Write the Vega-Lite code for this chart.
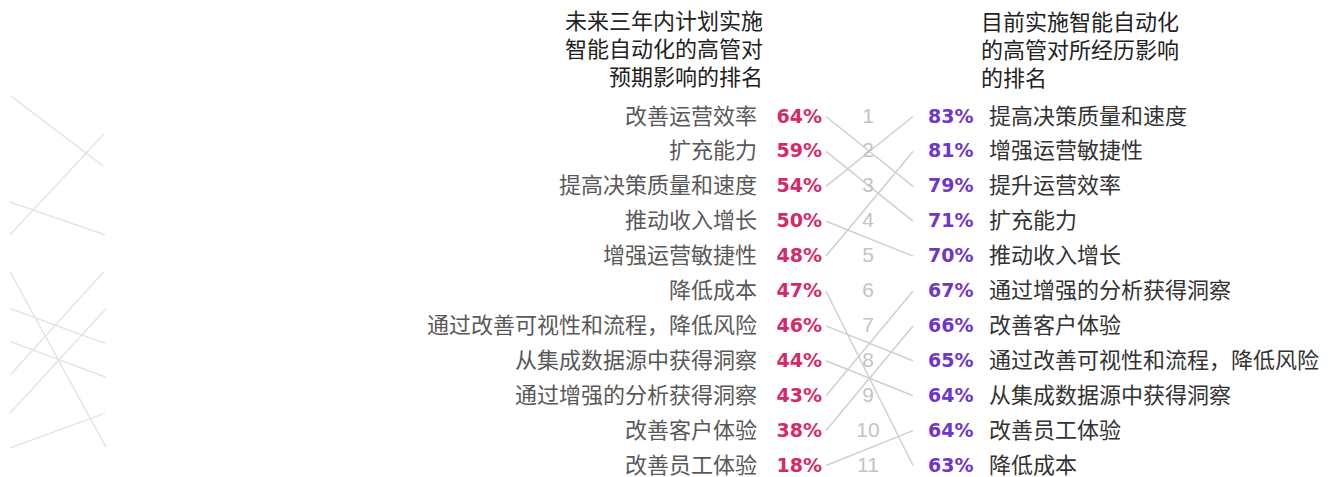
{
  "$schema": "https://vega.github.io/schema/vega-lite/v6.json",
  "width": 1339,
  "height": 477,
  "autosize": {"type": "fit", "contains": "padding"},
  "padding": 0,
  "background": "white",
  "config": {"view": {"stroke": null}},
  "data": {
    "values": [
      {"leftRank": 1, "leftLabel": "改善运营效率", "leftPct": "64%", "rightRank": 3, "rightLabel": "提升运营效率", "rightPct": "79%"},
      {"leftRank": 2, "leftLabel": "扩充能力", "leftPct": "59%", "rightRank": 4, "rightLabel": "扩充能力", "rightPct": "71%"},
      {"leftRank": 3, "leftLabel": "提高决策质量和速度", "leftPct": "54%", "rightRank": 1, "rightLabel": "提高决策质量和速度", "rightPct": "83%"},
      {"leftRank": 4, "leftLabel": "推动收入增长", "leftPct": "50%", "rightRank": 5, "rightLabel": "推动收入增长", "rightPct": "70%"},
      {"leftRank": 5, "leftLabel": "增强运营敏捷性", "leftPct": "48%", "rightRank": 2, "rightLabel": "增强运营敏捷性", "rightPct": "81%"},
      {"leftRank": 6, "leftLabel": "降低成本", "leftPct": "47%", "rightRank": 11, "rightLabel": "降低成本", "rightPct": "63%"},
      {"leftRank": 7, "leftLabel": "通过改善可视性和流程，降低风险", "leftPct": "46%", "rightRank": 8, "rightLabel": "通过改善可视性和流程，降低风险", "rightPct": "65%"},
      {"leftRank": 8, "leftLabel": "从集成数据源中获得洞察", "leftPct": "44%", "rightRank": 9, "rightLabel": "从集成数据源中获得洞察", "rightPct": "64%"},
      {"leftRank": 9, "leftLabel": "通过增强的分析获得洞察", "leftPct": "43%", "rightRank": 6, "rightLabel": "通过增强的分析获得洞察", "rightPct": "67%"},
      {"leftRank": 10, "leftLabel": "改善客户体验", "leftPct": "38%", "rightRank": 7, "rightLabel": "改善客户体验", "rightPct": "66%"},
      {"leftRank": 11, "leftLabel": "改善员工体验", "leftPct": "18%", "rightRank": 10, "rightLabel": "改善员工体验", "rightPct": "64%"}
    ]
  },
  "layer": [
    {
      "data": {
        "values": [
          {"xa": 11, "xb": 103, "ya": 0.414, "yb": 2.414},
          {"xa": 104, "xb": 10, "ya": 1.5, "yb": 4.386},
          {"xa": 9, "xb": 105, "ya": 3.443, "yb": 4.386},
          {"xa": 10, "xb": 106, "ya": 5.443, "yb": 10.471},
          {"xa": 104, "xb": 10, "ya": 5.443, "yb": 8.414},
          {"xa": 10, "xb": 105, "ya": 6.5, "yb": 7.5},
          {"xa": 106, "xb": 10, "ya": 6.5, "yb": 9.5},
          {"xa": 10, "xb": 106, "ya": 7.443, "yb": 8.471},
          {"xa": 10, "xb": 105, "ya": 10.5, "yb": 9.5}
        ]
      },
      "mark": {"type": "rule", "color": "#e5e5e5", "strokeWidth": 1.5},
      "encoding": {
        "x": {"field": "xa", "type": "quantitative", "axis": null, "scale": {"type": "linear", "domain": [0, 1339], "range": [0, 1339], "nice": false, "zero": false}},
        "x2": {"field": "xb"},
        "y": {"field": "ya", "type": "quantitative", "axis": null, "scale": {"type": "linear", "domain": [1, 11], "range": [116.5, 465.5], "nice": false, "zero": false}},
        "y2": {"field": "yb"}
      }
    },
    {
      "mark": {"type": "rule", "color": "#d0d0d0", "strokeWidth": 1.5},
      "encoding": {
        "x": {"datum": 826, "type": "quantitative", "axis": null, "scale": {"type": "linear", "domain": [0, 1339], "range": [0, 1339], "nice": false, "zero": false}},
        "x2": {"datum": 913},
        "y": {"field": "leftRank", "type": "quantitative", "axis": null, "scale": {"type": "linear", "domain": [1, 11], "range": [116.5, 465.5], "nice": false, "zero": false}},
        "y2": {"field": "rightRank"}
      }
    },
    {
      "mark": {"type": "text", "align": "right", "baseline": "middle", "font": "Noto Sans CJK SC", "fontSize": 22, "color": "#595959"},
      "encoding": {
        "x": {"datum": 757, "type": "quantitative", "axis": null, "scale": {"type": "linear", "domain": [0, 1339], "range": [0, 1339], "nice": false, "zero": false}},
        "y": {"field": "leftRank", "type": "quantitative", "axis": null, "scale": {"type": "linear", "domain": [1, 11], "range": [116.5, 465.5], "nice": false, "zero": false}},
        "text": {"field": "leftLabel"}
      }
    },
    {
      "mark": {"type": "text", "align": "right", "baseline": "middle", "font": "DejaVu Sans", "fontWeight": "bold", "fontSize": 19, "color": "#d42a6a"},
      "encoding": {
        "x": {"datum": 822, "type": "quantitative", "axis": null, "scale": {"type": "linear", "domain": [0, 1339], "range": [0, 1339], "nice": false, "zero": false}},
        "y": {"field": "leftRank", "type": "quantitative", "axis": null, "scale": {"type": "linear", "domain": [1, 11], "range": [116.5, 465.5], "nice": false, "zero": false}},
        "text": {"field": "leftPct"}
      }
    },
    {
      "mark": {"type": "text", "align": "center", "baseline": "middle", "font": "Liberation Sans", "fontSize": 21, "color": "#c4c4c4"},
      "encoding": {
        "x": {"datum": 868, "type": "quantitative", "axis": null, "scale": {"type": "linear", "domain": [0, 1339], "range": [0, 1339], "nice": false, "zero": false}},
        "y": {"field": "leftRank", "type": "quantitative", "axis": null, "scale": {"type": "linear", "domain": [1, 11], "range": [116.5, 465.5], "nice": false, "zero": false}},
        "text": {"field": "leftRank"}
      }
    },
    {
      "mark": {"type": "text", "align": "left", "baseline": "middle", "font": "DejaVu Sans", "fontWeight": "bold", "fontSize": 19, "color": "#7136c6"},
      "encoding": {
        "x": {"datum": 928, "type": "quantitative", "axis": null, "scale": {"type": "linear", "domain": [0, 1339], "range": [0, 1339], "nice": false, "zero": false}},
        "y": {"field": "rightRank", "type": "quantitative", "axis": null, "scale": {"type": "linear", "domain": [1, 11], "range": [116.5, 465.5], "nice": false, "zero": false}},
        "text": {"field": "rightPct"}
      }
    },
    {
      "mark": {"type": "text", "align": "left", "baseline": "middle", "font": "Noto Sans CJK SC", "fontSize": 22, "color": "#333333"},
      "encoding": {
        "x": {"datum": 989, "type": "quantitative", "axis": null, "scale": {"type": "linear", "domain": [0, 1339], "range": [0, 1339], "nice": false, "zero": false}},
        "y": {"field": "rightRank", "type": "quantitative", "axis": null, "scale": {"type": "linear", "domain": [1, 11], "range": [116.5, 465.5], "nice": false, "zero": false}},
        "text": {"field": "rightLabel"}
      }
    },
    {
      "data": {"values": [{"t": "未来三年内计划实施"}]},
      "mark": {"type": "text", "align": "right", "baseline": "middle", "font": "Noto Sans CJK SC", "fontSize": 22, "color": "#222222"},
      "encoding": {
        "x": {"datum": 763, "type": "quantitative", "axis": null, "scale": {"type": "linear", "domain": [0, 1339], "range": [0, 1339], "nice": false, "zero": false}},
        "y": {"datum": -1.708, "type": "quantitative", "axis": null, "scale": {"type": "linear", "domain": [1, 11], "range": [116.5, 465.5], "nice": false, "zero": false}},
        "text": {"field": "t"}
      }
    },
    {
      "data": {"values": [{"t": "智能自动化的高管对"}]},
      "mark": {"type": "text", "align": "right", "baseline": "middle", "font": "Noto Sans CJK SC", "fontSize": 22, "color": "#222222"},
      "encoding": {
        "x": {"datum": 763, "type": "quantitative", "axis": null, "scale": {"type": "linear", "domain": [0, 1339], "range": [0, 1339], "nice": false, "zero": false}},
        "y": {"datum": -0.905, "type": "quantitative", "axis": null, "scale": {"type": "linear", "domain": [1, 11], "range": [116.5, 465.5], "nice": false, "zero": false}},
        "text": {"field": "t"}
      }
    },
    {
      "data": {"values": [{"t": "预期影响的排名"}]},
      "mark": {"type": "text", "align": "right", "baseline": "middle", "font": "Noto Sans CJK SC", "fontSize": 22, "color": "#222222"},
      "encoding": {
        "x": {"datum": 763, "type": "quantitative", "axis": null, "scale": {"type": "linear", "domain": [0, 1339], "range": [0, 1339], "nice": false, "zero": false}},
        "y": {"datum": -0.103, "type": "quantitative", "axis": null, "scale": {"type": "linear", "domain": [1, 11], "range": [116.5, 465.5], "nice": false, "zero": false}},
        "text": {"field": "t"}
      }
    },
    {
      "data": {"values": [{"t": "目前实施智能自动化"}]},
      "mark": {"type": "text", "align": "left", "baseline": "middle", "font": "Noto Sans CJK SC", "fontSize": 22, "color": "#222222"},
      "encoding": {
        "x": {"datum": 981, "type": "quantitative", "axis": null, "scale": {"type": "linear", "domain": [0, 1339], "range": [0, 1339], "nice": false, "zero": false}},
        "y": {"datum": -1.679, "type": "quantitative", "axis": null, "scale": {"type": "linear", "domain": [1, 11], "range": [116.5, 465.5], "nice": false, "zero": false}},
        "text": {"field": "t"}
      }
    },
    {
      "data": {"values": [{"t": "的高管对所经历影响"}]},
      "mark": {"type": "text", "align": "left", "baseline": "middle", "font": "Noto Sans CJK SC", "fontSize": 22, "color": "#222222"},
      "encoding": {
        "x": {"datum": 981, "type": "quantitative", "axis": null, "scale": {"type": "linear", "domain": [0, 1339], "range": [0, 1339], "nice": false, "zero": false}},
        "y": {"datum": -0.877, "type": "quantitative", "axis": null, "scale": {"type": "linear", "domain": [1, 11], "range": [116.5, 465.5], "nice": false, "zero": false}},
        "text": {"field": "t"}
      }
    },
    {
      "data": {"values": [{"t": "的排名"}]},
      "mark": {"type": "text", "align": "left", "baseline": "middle", "font": "Noto Sans CJK SC", "fontSize": 22, "color": "#222222"},
      "encoding": {
        "x": {"datum": 981, "type": "quantitative", "axis": null, "scale": {"type": "linear", "domain": [0, 1339], "range": [0, 1339], "nice": false, "zero": false}},
        "y": {"datum": -0.074, "type": "quantitative", "axis": null, "scale": {"type": "linear", "domain": [1, 11], "range": [116.5, 465.5], "nice": false, "zero": false}},
        "text": {"field": "t"}
      }
    }
  ]
}
